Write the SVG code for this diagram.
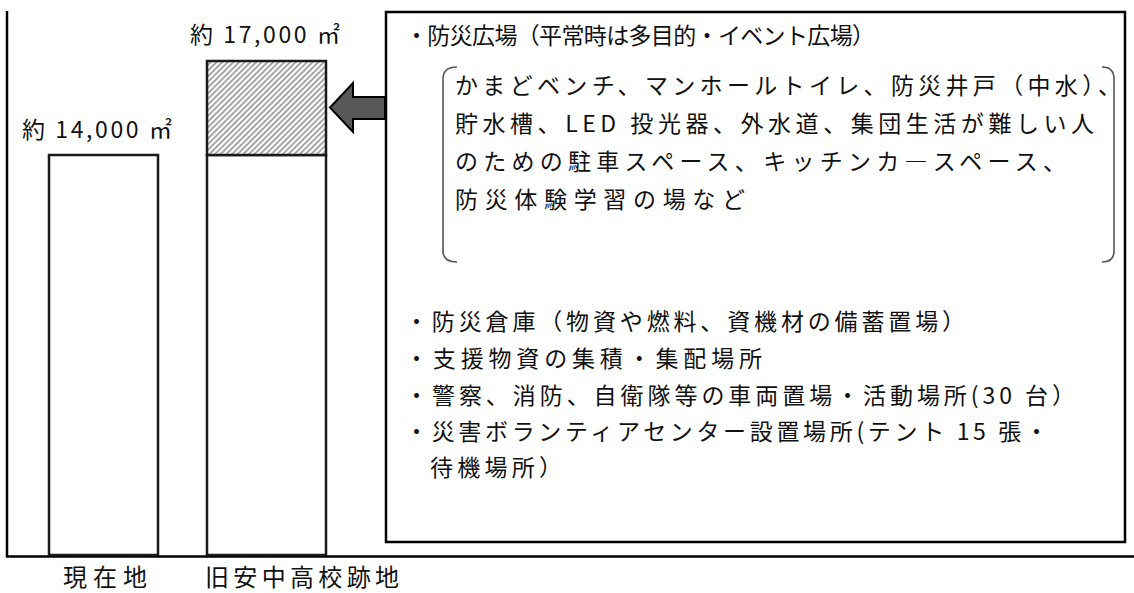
<svg xmlns="http://www.w3.org/2000/svg" width="1134" height="593" viewBox="0 0 1134 593">
<style>
  .t { font-family: "Noto Sans CJK JP", "Noto Sans CJK SC", sans-serif; font-size: 23px; fill: #111111; }
  .lb { font-family: "Noto Sans CJK JP", "Noto Sans CJK SC", sans-serif; font-size: 24px; fill: #111111; }
  .bar { fill: #ffffff; stroke: #1a1a1a; stroke-width: 2.5; }
  .ln { stroke: #000; stroke-width: 2.5; fill: none; }
  .br { stroke: #555; stroke-width: 1.6; fill: none; }
</style>
<defs>
  <pattern id="hatch" patternUnits="userSpaceOnUse" width="4" height="4" patternTransform="rotate(45)">
    <rect width="4" height="4" fill="#ffffff"/>
    <line x1="1" y1="0" x2="1" y2="4" stroke="#a6a6a6" stroke-width="2"/>
  </pattern>
</defs>
<rect width="1134" height="593" fill="#ffffff"/>

<g id="axes">
  <line class="ln" x1="7" y1="11" x2="7" y2="557"/>
  <line class="ln" x1="6" y1="556.5" x2="1134" y2="556.5"/>
</g>

<g id="bar-current">
  <rect class="bar" x="49" y="155" width="109" height="400"/>
  <text class="t" x="22" y="138" textLength="150" lengthAdjust="spacing">約 14,000 ㎡</text>
  <text class="lb" x="63" y="586" textLength="84" lengthAdjust="spacing">現在地</text>
</g>

<g id="bar-new">
  <rect class="bar" x="207" y="155" width="119" height="400"/>
  <rect x="207" y="61" width="119" height="94" fill="url(#hatch)" stroke="#1a1a1a" stroke-width="2.5"/>
  <text class="t" x="190" y="43" textLength="150" lengthAdjust="spacing">約 17,000 ㎡</text>
  <text class="lb" x="205" y="586" textLength="194" lengthAdjust="spacing">旧安中高校跡地</text>
</g>

<g id="connectors">
  <polygon points="385,97 353,97 353,83 330,107.5 353,132 353,119 385,119" fill="#595959" stroke="#000" stroke-width="2" stroke-linejoin="miter"/>
</g>

<g id="info-box">
  <rect x="386" y="12" width="739" height="530" fill="#ffffff" stroke="#000" stroke-width="2.5"/>
  <path class="br" d="M457,67 Q443,67 443,79 L443,251 Q443,262 457,262"/>
  <path class="br" d="M1102,67 Q1114,67 1114,79 L1114,251 Q1114,262 1102,262"/>
  <text class="t" x="405" y="44" textLength="470" lengthAdjust="spacing">・防災広場（平常時は多目的・イベント広場）</text>
  <text class="t" x="455" y="94" textLength="666" lengthAdjust="spacing">かまどベンチ、マンホールトイレ、防災井戸（中水）、</text>
  <text class="t" x="455" y="132" textLength="639" lengthAdjust="spacing">貯水槽、LED 投光器、外水道、集団生活が難しい人</text>
  <text class="t" x="455" y="170" textLength="611" lengthAdjust="spacing">のための駐車スペース、キッチンカ―スペース、</text>
  <text class="t" x="455" y="208" textLength="290" lengthAdjust="spacing">防災体験学習の場など</text>
  <text class="t" x="405" y="330" textLength="560" lengthAdjust="spacing">・防災倉庫（物資や燃料、資機材の備蓄置場）</text>
  <text class="t" x="405" y="367" textLength="357" lengthAdjust="spacing">・支援物資の集積・集配場所</text>
  <text class="t" x="405" y="404" textLength="670" lengthAdjust="spacing">・警察、消防、自衛隊等の車両置場・活動場所(30 台）</text>
  <text class="t" x="405" y="440" textLength="643" lengthAdjust="spacing">・災害ボランティアセンター設置場所(テント 15 張・</text>
  <text class="t" x="430" y="476" textLength="132" lengthAdjust="spacing">待機場所）</text>
</g>
</svg>
